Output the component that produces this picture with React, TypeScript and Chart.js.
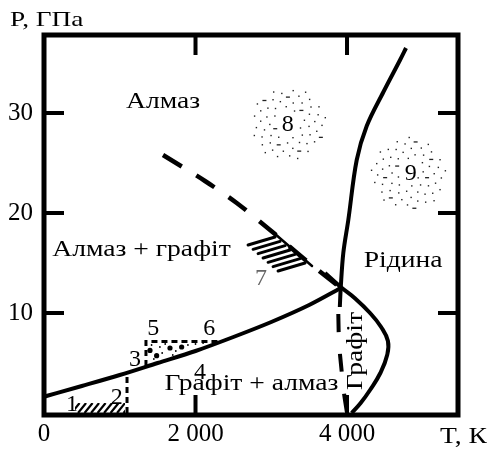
import React, { useEffect, useRef } from 'react';
import { Chart, registerables } from 'chart.js';
Chart.register(...registerables);

// ---- axis ticks ----
const xTickValues = [0, 2000, 4000];
const xTickLabels = ['0', '2 000', '4 000'];
const yTickValues = [10, 20, 30];
const yTickLabels = ['10', '20', '30'];
const xAxisTitle = 'T, К';
const yAxisTitle = 'P, ГПа';

// ---- graphite / diamond equilibrium line ----
const eqT = [0, 500, 1000, 1500, 2000, 2500, 3000, 3500, 3917];
const eqP = [1.63, 2.7, 3.8, 5.0, 6.2, 7.6, 9.1, 10.8, 12.5];

// ---- graphite melting line ----
const meltGT = [3710, 3917, 4100, 4304, 4450, 4540, 4530, 4440, 4304, 4180, 4062];
const meltGP = [14.0, 12.6, 11.5, 10.0, 8.6, 7.2, 5.8, 4.0, 2.3, 1.0, 0];

// ---- diamond melting line ----
const meltDT = [3905, 3917, 3951, 4017, 4128, 4260, 4480, 4700, 4779];
const meltDP = [10.6, 12.5, 16.0, 19.3, 25.3, 28.7, 32.1, 35.3, 36.5];

// ---- metastable extension of diamond melting (dashed) ----
const meltDashT = [3885, 3895, 3925, 3960, 4000];
const meltDashP = [9.9, 7.0, 4.5, 2.0, 0];

// ---- metastable extension of equilibrium line (dashed) ----
const metaT = [1571, 2125, 2544, 3000, 3500, 3917];
const metaP = [25.8, 23.2, 21.0, 18.2, 15.0, 12.5];

// ---- region 1-2 border and hatch ----
const border2T = [1096, 1096];
const border2P = [0, 4.0];
const hatch1T = [410, 1070];
const hatch1P = [0, 1.0];

// ---- region 3-5-6 rectangle ----
const rectT = [1346, 1346, 2290];
const rectP = [4.7, 7.15, 7.15];
const bigDotT = [1399, 1487, 1663, 1817];
const bigDotP = [6.26, 5.73, 6.5, 6.6];
const smallDotT = [1420, 1560, 1600, 1740, 1900, 2000, 1530, 1450, 1700, 2100];
const smallDotP = [6.8, 6.0, 6.9, 6.2, 6.8, 6.9, 6.6, 5.4, 5.8, 7.0];

// ---- region 7 hatch: edge line and strokes ----
const r7EdgeT = [2944, 3538];
const r7EdgeP = [18.6, 14.7];
const r7StrokeEndT = [3050, 3446];
const r7StrokeEndP = [17.6, 15.0];
const r7StrokeCount = 7;
const r7StrokeDT = -356;
const r7StrokeDP = -0.8;

// ---- stippled regions 8 and 9 ----
const stippleT = [3218, 4809];
const stippleP = [29.0, 24.0];
const stippleRT = [500, 500];
const stippleRP = [3.7, 3.7];
const stippleCount = 70;

// ---- region labels ----
const labelTexts = ['Алмаз', 'Алмаз + графіт', 'Рідина', 'Графіт + алмаз'];
const labelT = [1571, 1287, 4740, 2739];
const labelP = [30.5, 15.7, 14.6, 2.26];
const vLabelText = 'Графіт';
const vLabelT = 4195;
const vLabelP = 6.2;

const numTexts = ['1', '2', '3', '4', '5', '6', '7', '8', '9'];
const numT = [371, 960, 1201, 2059, 1443, 2182, 2865, 3218, 4840];
const numP = [0.16, 0.93, 4.66, 3.4, 7.83, 7.83, 12.83, 28.2, 23.3];

const FONT = "'Liberation Serif'";

const toXY = (ts: number[], ps: number[]) => ts.map((t, i) => ({ x: t, y: ps[i] }));

function drawText(ctx: CanvasRenderingContext2D, text: string, x: number, y: number, size: number, sx: number, align: CanvasTextAlign, color = '#000', rot = 0) {
  ctx.save();
  ctx.translate(x, y);
  if (rot) ctx.rotate(rot);
  ctx.scale(sx, 1);
  ctx.font = `${size}px ${FONT}`;
  ctx.textAlign = align;
  ctx.textBaseline = 'alphabetic';
  ctx.fillStyle = color;
  ctx.fillText(text, 0, 0);
  ctx.restore();
}

const decorPlugin = {
  id: 'decor',
  beforeDatasetsDraw(chart: any) {
    const ctx: CanvasRenderingContext2D = chart.ctx;
    const xs = chart.scales.x, ys = chart.scales.y;
    const X = (v: number) => xs.getPixelForValue(v);
    const Y = (v: number) => ys.getPixelForValue(v);
    ctx.save();
    const hx0 = X(hatch1T[0]), hx1 = X(hatch1T[1]);
    const hy0 = Y(hatch1P[0]), hy1 = Y(hatch1P[1]);
    ctx.beginPath();
    ctx.rect(hx0, hy1, hx1 - hx0, hy0 - hy1);
    ctx.clip();
    ctx.strokeStyle = '#000';
    ctx.lineWidth = 2.2;
    const h = hy0 - hy1;
    for (let x = hx0 - h; x < hx1 + h; x += 6.5) {
      ctx.beginPath();
      ctx.moveTo(x, hy0);
      ctx.lineTo(x + h * 0.8, hy1);
      ctx.stroke();
    }
    ctx.restore();

    ctx.save();
    ctx.strokeStyle = '#000';
    ctx.lineCap = 'round';
    ctx.lineWidth = 2.5;
    ctx.beginPath();
    ctx.moveTo(X(r7EdgeT[0]), Y(r7EdgeP[0]));
    ctx.lineTo(X(r7EdgeT[1]), Y(r7EdgeP[1]));
    ctx.stroke();
    ctx.lineWidth = 3;
    for (let i = 0; i < r7StrokeCount; i++) {
      const f = i / (r7StrokeCount - 1);
      const t = r7StrokeEndT[0] + (r7StrokeEndT[1] - r7StrokeEndT[0]) * f;
      const p = r7StrokeEndP[0] + (r7StrokeEndP[1] - r7StrokeEndP[0]) * f;
      ctx.beginPath();
      ctx.moveTo(X(t), Y(p));
      ctx.lineTo(X(t + r7StrokeDT), Y(p + r7StrokeDP));
      ctx.stroke();
    }
    ctx.restore();

    ctx.save();
    ctx.fillStyle = '#222';
    const golden = Math.PI * (3 - Math.sqrt(5));
    for (let c = 0; c < stippleT.length; c++) {
      const cx = X(stippleT[c]), cy = Y(stippleP[c]);
      const rx = Math.abs(X(stippleT[c] + stippleRT[c]) - cx);
      const ry = Math.abs(Y(stippleP[c] + stippleRP[c]) - cy);
      for (let k = 3; k < stippleCount; k++) {
        const r = Math.sqrt(k / stippleCount);
        const a = k * golden + c;
        const dx = Math.cos(a) * r * rx, dy = Math.sin(a) * r * ry;
        if (Math.abs(dx) < 9 && Math.abs(dy) < 12) continue;
        if (k % 9 === 0) ctx.fillRect(cx + dx - 2, cy + dy, 4, 1.3);
        else ctx.fillRect(cx + dx, cy + dy, 1.4, 1.4);
      }
    }
    ctx.restore();
  },
  afterDatasetsDraw(chart: any) {
    const ctx: CanvasRenderingContext2D = chart.ctx;
    const { left, right, top, bottom } = chart.chartArea;
    const xs = chart.scales.x, ys = chart.scales.y;
    const X = (v: number) => xs.getPixelForValue(v);
    const Y = (v: number) => ys.getPixelForValue(v);
    ctx.save();
    ctx.strokeStyle = '#000';
    ctx.lineWidth = 5;
    ctx.strokeRect(left, top, right - left, bottom - top);
    ctx.lineWidth = 4;
    const tl = 20;
    xTickValues.forEach((v) => {
      if (v === 0) return;
      const x = X(v);
      ctx.beginPath();
      ctx.moveTo(x, bottom); ctx.lineTo(x, bottom - tl);
      ctx.moveTo(x, top); ctx.lineTo(x, top + tl);
      ctx.stroke();
    });
    yTickValues.forEach((v) => {
      const y = Y(v);
      ctx.beginPath();
      ctx.moveTo(left, y); ctx.lineTo(left + tl, y);
      ctx.moveTo(right, y); ctx.lineTo(right - tl, y);
      ctx.stroke();
    });
    ctx.restore();

    labelTexts.forEach((s, i) => drawText(ctx, s, X(labelT[i]), Y(labelP[i]), 23, 1.2, 'center'));
    drawText(ctx, vLabelText, X(vLabelT), Y(vLabelP), 23, 1.2, 'center', '#000', -Math.PI / 2);
    numTexts.forEach((s, i) => drawText(ctx, s, X(numT[i]), Y(numP[i]), 24, 1, 'center', s === '7' ? '#666' : '#000'));
    drawText(ctx, yAxisTitle, 10, top - 9, 21, 1.3, 'left');
    drawText(ctx, xAxisTitle, 487, bottom + 28, 23, 1.2, 'right');
  },
};

export default function App() {
  const ref = useRef<HTMLCanvasElement>(null);
  useEffect(() => {
    document.body.style.margin = '0';
    let chart: Chart | null = null;
    let cancelled = false;
    const line = (ts: number[], ps: number[], extra: any = {}) => ({
      data: toXY(ts, ps),
      showLine: true,
      borderColor: '#000',
      borderWidth: 4,
      pointRadius: 0,
      fill: false,
      tension: 0.4,
      ...extra,
    });
    const build = () => {
      if (cancelled || !ref.current) return;
      chart = new Chart(ref.current, {
        type: 'scatter',
        data: {
          datasets: [
            line(eqT, eqP, { cubicInterpolationMode: 'monotone' }),
            line(meltGT, meltGP, { tension: 0.45 }),
            line(meltDT, meltDP, { tension: 0.35 }),
            line(meltDashT, meltDashP, { borderDash: [18, 22], tension: 0.3 }),
            line(metaT, metaP, { borderDash: [22, 17], tension: 0.3, borderWidth: 4.5 }),
            line(border2T, border2P, { borderDash: [6, 4], borderWidth: 3, tension: 0 }),
            line(rectT, rectP, { borderDash: [6, 4], borderWidth: 3, tension: 0 }),
            { data: toXY(bigDotT, bigDotP), showLine: false, pointRadius: 2.6, pointBackgroundColor: '#000', pointBorderWidth: 0 },
            { data: toXY(smallDotT, smallDotP), showLine: false, pointRadius: 0.9, pointBackgroundColor: '#000', pointBorderWidth: 0 },
          ],
        },
        options: {
          animation: false,
          responsive: false,
          devicePixelRatio: 1,
          layout: { padding: { left: 0, top: 35, right: 31, bottom: 0 } },
          plugins: { legend: { display: false }, tooltip: { enabled: false } },
          scales: {
            x: {
              type: 'linear',
              min: 0,
              max: 5465,
              border: { display: false },
              grid: { display: false, drawTicks: false },
              ticks: {
                padding: 4,
                color: '#000',
                font: { family: FONT, size: 25 },
                maxRotation: 0,
                callback: (v: any) => {
                  const i = xTickValues.indexOf(Number(v));
                  return i >= 0 ? xTickLabels[i] : '';
                },
              },
              afterBuildTicks: (s: any) => { s.ticks = xTickValues.map((v) => ({ value: v })); },
              afterFit: (s: any) => { s.height = 36; },
            },
            y: {
              type: 'linear',
              min: -0.2,
              max: 37.8,
              border: { display: false },
              grid: { display: false, drawTicks: false },
              ticks: {
                padding: 11,
                color: '#000',
                font: { family: FONT, size: 25 },
                callback: (v: any) => {
                  const i = yTickValues.indexOf(Number(v));
                  return i >= 0 ? yTickLabels[i] : '';
                },
              },
              afterBuildTicks: (s: any) => { s.ticks = yTickValues.map((v) => ({ value: v })); },
              afterFit: (s: any) => { s.width = 44; },
            },
          },
        } as any,
        plugins: [decorPlugin],
      });
    };
    const fonts: any = (document as any).fonts;
    if (fonts && fonts.load) {
      Promise.all([
        fonts.load("24px 'Liberation Serif'", 'Алмаз 0123'),
      ]).then(build, build);
    } else {
      build();
    }
    return () => {
      cancelled = true;
      if (chart) chart.destroy();
    };
  }, []);
  return (
    <div style={{ position: 'fixed', left: 0, top: 0, width: 489, height: 451, background: '#fff' }}>
      <canvas ref={ref} width={489} height={451} />
    </div>
  );
}
